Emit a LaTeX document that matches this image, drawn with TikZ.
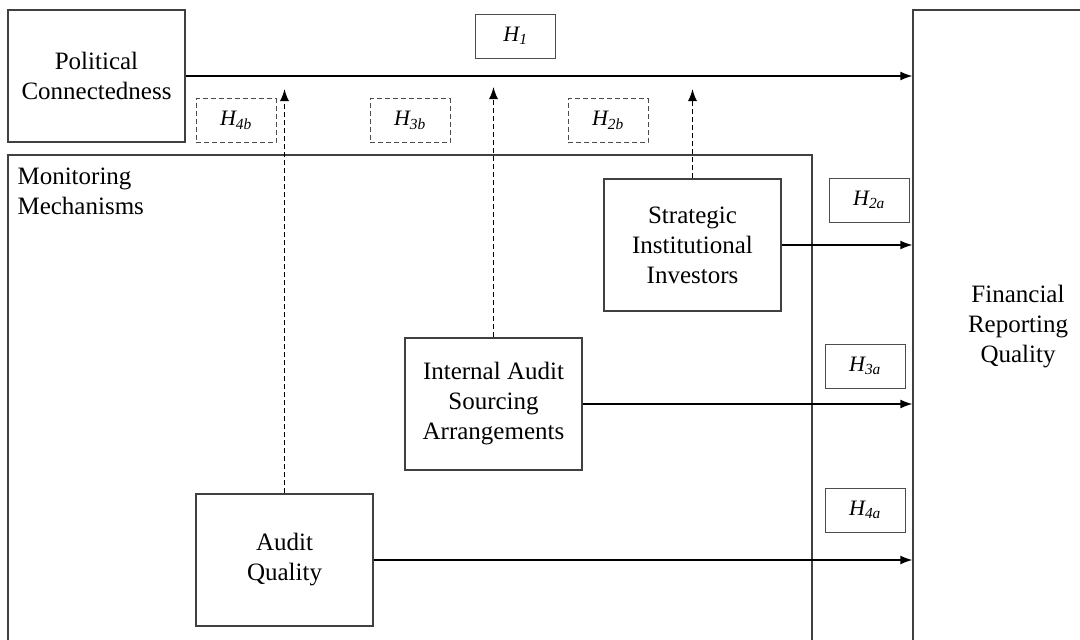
\documentclass[tikz,border=0pt]{standalone}
\usepackage{fontspec}
\setmainfont{Liberation Serif}
\usetikzlibrary{
    arrows.meta,   % For arrow tips
    positioning    % For relative placement
}

\begin{document}
\begin{tikzpicture}[
    x=1pt, y=-1pt,
    box/.style={draw=black!75, line width=1.3pt, inner sep=0pt,
        minimum width=177pt, minimum height=132pt, align=center,
        font=\fontsize{25}{30}\selectfont},
    hbox/.style={draw=black!70, line width=1pt, inner sep=0pt,
        minimum width=80pt, minimum height=44pt,
        font=\fontsize{22}{24}\selectfont\itshape},
    hdash/.style={hbox, dash pattern=on 5pt off 3pt},
    link/.style={-{Latex[length=12pt,width=9pt]}, line width=1.3pt},     % Solid paths
    dlink/.style={link, dash pattern=on 5pt off 3pt} % Moderated paths
]

    % Picture frame
    \useasboundingbox (0,0) rectangle (1080,640);
    \clip (0,0) rectangle (1080,640);

    % Outer boxes
    \node[box] (pol) at (96.5,76) {Political\\Connectedness};
    \node[box, minimum width=210pt, minimum height=634pt] (frq) at (1018,327)
        {Financial\\Reporting\\Quality};
    \node[box, minimum width=804pt, minimum height=500pt] (mon) at (410,405) {};
    \node[align=left, inner sep=0pt, font=\fontsize{25}{30}\selectfont,
        below right=13pt and 10pt of mon.north west] (montxt) {Monitoring\\Mechanisms};

    % Monitoring mechanisms
    \node[box] (sib) at (692.5,245) {Strategic\\Institutional\\Investors};
    \node[box] (ias) at (493.5,404) {Internal Audit\\Sourcing\\Arrangements};
    \node[box] (aq) at (284.5,560) {Audit\\Quality};

    % Hypothesis labels
    \node[hbox] (h1) at (515.5,36) {H\textsubscript{1}};
    \node[hdash] (h4b) at (236,120.5) {H\textsubscript{4b}};
    \node[hdash] (h3b) at (410,120.5) {H\textsubscript{3b}};
    \node[hdash] (h2b) at (608,120.5) {H\textsubscript{2b}};
    \node[hbox] (h2a) at (869,200) {H\textsubscript{2a}};
    \node[hbox] (h3a) at (865,366) {H\textsubscript{3a}};
    \node[hbox] (h4a) at (865,510) {H\textsubscript{4a}};

    % Direct effects
    \draw[link] (pol.east) -- (pol.east -| frq.west);
    \draw[link] (sib.east) -- (sib.east -| frq.west);
    \draw[link] (ias.east) -- (ias.east -| frq.west);
    \draw[link] (aq.east) -- (aq.east -| frq.west);

    % Moderating effects (tips end under the H1 path)
    \coordinate (t4) at (aq.north |- 0,89);
    \coordinate (t3) at (ias.north |- 0,87);
    \coordinate (t2) at (sib.north |- 0,89);
    \draw[dlink] (aq.north) -- (t4);
    \draw[dlink] (ias.north) -- (t3);
    \draw[dlink] (sib.north) -- (t2);

\end{tikzpicture}
\end{document}
